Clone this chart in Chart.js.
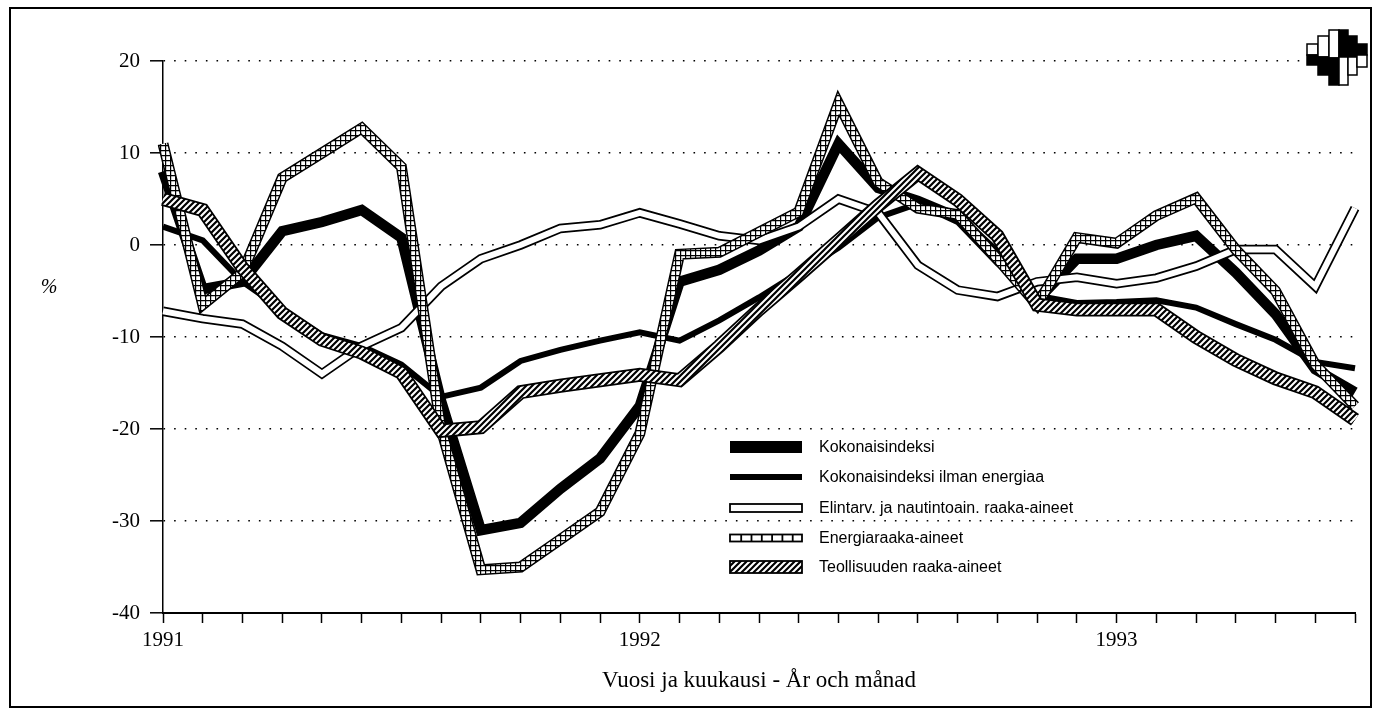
<!DOCTYPE html>
<html>
<head>
<meta charset="utf-8">
<script src="https://cdn.jsdelivr.net/npm/chart.js@4.4.1/dist/chart.umd.min.js"></script>
<style>
  html, body { margin: 0; padding: 0; background: #fff; }
  #wrap { position: relative; width: 1373px; height: 715px; }
</style>
</head>
<body>
<div id="wrap"><canvas id="chart" width="1373" height="715"></canvas></div>
<script>
// monthly observations, Jan 1991 .. Jul 1993
const months = [
  '1991/01','1991/02','1991/03','1991/04','1991/05','1991/06','1991/07','1991/08','1991/09','1991/10','1991/11','1991/12',
  '1992/01','1992/02','1992/03','1992/04','1992/05','1992/06','1992/07','1992/08','1992/09','1992/10','1992/11','1992/12',
  '1993/01','1993/02','1993/03','1993/04','1993/05','1993/06','1993/07'
];
const yearLabels = ['1991', '1992', '1993'];
const yTickLabels = ['-40', '-30', '-20', '-10', '0', '10', '20'];

const seriesNames = [
  'Kokonaisindeksi',
  'Kokonaisindeksi ilman energiaa',
  'Elintarv. ja nautintoain. raaka-aineet',
  'Energiaraaka-aineet',
  'Teollisuuden raaka-aineet'
];

const kokonais = [8, -4.8, -4, 1.5, 2.5, 3.8, 0.8, -17, -31, -30.2, -26.5, -23.2,
  -17.5, -4, -2.7, -0.6, 2, 11, 6.2, 4.8, 3, -1, -6, -1.5,
  -1.5, 0, 1, -3, -7.5, -13.5, -16];
const ilmanEnergiaa = [2, 0.5, -4, -7, -9.8, -11, -13, -16.5, -15.5, -12.6, -11.4, -10.4,
  -9.5, -10.4, -8.2, -5.7, -3, -0.3, 3, 4.5, 2.5, -2, -5.5, -6.3,
  -6.2, -6, -6.8, -8.6, -10.3, -12.7, -13.4];
const elintarv = [-7.2, -8, -8.6, -11, -14, -11, -9, -4.5, -1.5, 0, 1.8, 2.2,
  3.5, 2.3, 1, 0.5, 2, 5, 3.5, -2.2, -4.9, -5.6, -4, -3.5,
  -4.2, -3.6, -2.3, -0.5, -0.5, -4.5, 4];
const energia = [11, -6.5, -3, 7.3, 10, 12.7, 8.5, -20, -35.3, -35, -32, -29,
  -20.5, -1, -0.8, 1.4, 3.6, 15.4, 6.8, 4, 3.3, -1.5, -6.5, 0.8,
  0.2, 3.2, 5.1, -0.5, -5, -13, -17.5];
const teollisuus = [5, 3.8, -2.5, -7.4, -10.3, -11.7, -13.9, -20.2, -19.8, -16, -15.3, -14.7,
  -14.1, -14.7, -11, -7, -3.3, 0.5, 4.3, 7.8, 4.9, 1, -6.5, -7,
  -7, -7, -10, -12.5, -14.5, -16, -19];

// fill patterns for the banded lines
function makePattern(kind) {
  const c = document.createElement('canvas');
  const s = kind === 'grid' ? 5 : 6;
  c.width = s; c.height = s;
  const g = c.getContext('2d');
  g.fillStyle = '#fff';
  g.fillRect(0, 0, s, s);
  g.strokeStyle = '#000';
  if (kind === 'grid') {
    g.lineWidth = 1.4;
    g.beginPath();
    g.moveTo(0, 0.5); g.lineTo(s, 0.5);
    g.moveTo(0.5, 0); g.lineTo(0.5, s);
    g.stroke();
  } else {
    g.lineWidth = 2.2;
    g.beginPath();
    g.moveTo(-1, s + 1); g.lineTo(s + 1, -1);
    g.moveTo(-1, 1); g.lineTo(1, -1);
    g.moveTo(s - 1, s + 1); g.lineTo(s + 1, s - 1);
    g.stroke();
  }
  return g.createPattern(c, 'repeat');
}
const gridPattern = makePattern('grid');
const hatchPattern = makePattern('hatch');

function band(data, color, width) {
  return { data, borderColor: color, borderWidth: width, pointRadius: 0, fill: false };
}

// first dataset is drawn on top
const datasets = [
  band(teollisuus, hatchPattern, 10.5),
  band(teollisuus, '#000', 14),
  band(energia, gridPattern, 8),
  band(energia, '#000', 11),
  band(elintarv, '#fff', 6),
  band(elintarv, '#000', 9.5),
  band(ilmanEnergiaa, '#000', 6),
  band(kokonais, '#000', 10.5)
];

const serif = 'Liberation Serif';
const sans = 'Liberation Sans';

const framePlugin = {
  id: 'frame',
  beforeDraw(chart) {
    const c = chart.ctx;
    c.save();
    c.fillStyle = '#fff';
    c.fillRect(0, 0, chart.width, chart.height);
    c.strokeStyle = '#000';
    c.lineWidth = 2;
    c.strokeRect(10, 8, chart.width - 12, chart.height - 16);
    c.restore();
  },
  afterDraw(chart) {
    const c = chart.ctx;
    c.save();
    c.fillStyle = '#000';
    c.font = 'italic 20px ' + serif;
    c.textAlign = 'center';
    c.textBaseline = 'middle';
    c.fillText('%', 49, 288);
    c.restore();
  }
};

const legendPlugin = {
  id: 'bandLegend',
  afterDatasetsDraw(chart) {
    const c = chart.ctx;
    const x0 = 730, w = 72, tx = 819;
    const rows = [447, 477, 508, 538, 567];
    c.save();
    rows.forEach((y, i) => {
      if (i === 0) {
        c.fillStyle = '#000';
        c.fillRect(x0, y - 6, w, 12);
      } else if (i === 1) {
        c.fillStyle = '#000';
        c.fillRect(x0, y - 3, w, 6);
      } else {
        const h = i === 2 ? 8 : (i === 3 ? 7 : 12);
        c.fillStyle = i === 4 ? hatchPattern : '#fff';
        c.fillRect(x0, y - h / 2, w, h);
        if (i === 3) {
          c.fillStyle = '#000';
          for (let k = 1; k < 7; k++) c.fillRect(x0 + k * 10.3, y - h / 2, 1.8, h);
        }
        c.strokeStyle = '#000';
        c.lineWidth = 1.8;
        c.strokeRect(x0, y - h / 2, w, h);
      }
      c.fillStyle = '#000';
      c.font = '16px ' + sans;
      c.textAlign = 'left';
      c.textBaseline = 'middle';
      c.fillText(seriesNames[i], tx, y + 1);
    });
    c.restore();
  }
};

const logoPlugin = {
  id: 'logo',
  afterDraw(chart) {
    const c = chart.ctx;
    // [x, y, w, h, black?]
    const cells = [
      [1307, 44, 11, 11, false], [1307, 55, 11, 10, true],
      [1318, 36, 11, 21, false], [1318, 57, 11, 18, true],
      [1329, 30, 10, 28, false], [1329, 58, 10, 27, true],
      [1339, 30, 9, 27, true], [1339, 57, 9, 28, false],
      [1348, 36, 9, 21, true], [1348, 57, 9, 18, false],
      [1357, 44, 10, 11, true], [1357, 55, 10, 12, false]
    ];
    c.save();
    c.lineWidth = 1.5;
    c.strokeStyle = '#000';
    cells.forEach(([x, y, w, h, b]) => {
      c.fillStyle = b ? '#000' : '#fff';
      c.fillRect(x, y, w, h);
      c.strokeRect(x, y, w, h);
    });
    c.restore();
  }
};

const ctx = document.getElementById('chart').getContext('2d');
new Chart(ctx, {
  type: 'line',
  data: { labels: months, datasets },
  options: {
    responsive: false,
    animation: false,
    layout: { padding: { top: 61, right: 18, left: 0, bottom: 0 } },
    plugins: { legend: { display: false }, tooltip: { enabled: false } },
    elements: { line: { tension: 0, borderJoinStyle: 'miter', borderCapStyle: 'butt' } },
    scales: {
      x: {
        offset: false,
        grid: { drawOnChartArea: false, drawTicks: true, tickLength: 10, tickWidth: 1.5, tickColor: '#000' },
        border: { display: true, color: '#000', width: 2 },
        ticks: {
          autoSkip: false, maxRotation: 0, padding: 5, color: '#000',
          font: { family: serif, size: 21 },
          callback: (v, i) => (i % 12 === 0 ? yearLabels[i / 12] : '')
        },
        title: {
          display: true, text: 'Vuosi ja kuukausi - År och månad', color: '#000',
          font: { family: serif, size: 23 }, padding: { top: 0, bottom: 20 }
        },
        afterFit: s => { s.height = 102; }
      },
      y: {
        min: -40, max: 20,
        ticks: {
          stepSize: 10, padding: 10, color: '#000',
          font: { family: serif, size: 21 },
          callback: v => yTickLabels[(v + 40) / 10]
        },
        grid: { color: '#000', lineWidth: 1.6, drawTicks: true, tickLength: 13, tickWidth: 1.5, tickColor: '#000' },
        border: { display: true, color: '#000', width: 1.5, dash: [1.6, 9] },
        afterFit: s => { s.width = 163; }
      }
    }
  },
  plugins: [framePlugin, legendPlugin, logoPlugin]
});
</script>
</body>
</html>
